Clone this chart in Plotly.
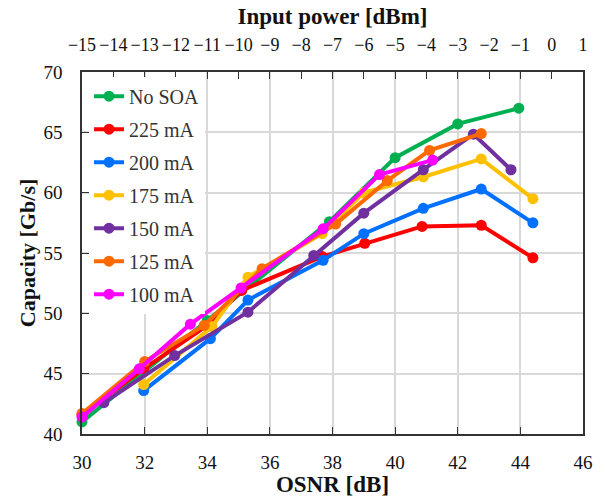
import plotly.graph_objects as go

names = ["No SOA", "225 mA", "200 mA", "175 mA", "150 mA", "125 mA", "100 mA"]
colors = ["#00B050", "#FF0000", "#0070FF", "#FFC000", "#7030A0", "#FF6A00", "#FF00FF"]

osnr_nosoa = [30.0, 34.0, 37.9, 40.0, 42.0, 43.95]
cap_nosoa = [41.0, 49.4, 57.6, 62.9, 65.7, 67.0]

osnr_225 = [30.0, 31.97, 34.0, 35.1, 37.67, 39.03, 40.86, 42.75, 44.4]
cap_225 = [41.6, 45.4, 49.0, 51.9, 54.7, 55.8, 57.2, 57.3, 54.6]

osnr_200 = [31.97, 34.1, 35.3, 37.7, 39.0, 40.9, 42.75, 44.4]
cap_200 = [43.6, 47.9, 51.1, 54.4, 56.6, 58.7, 60.3, 57.5]

osnr_175 = [31.97, 34.15, 35.3, 37.67, 39.0, 40.9, 42.75, 44.4]
cap_175 = [44.1, 48.9, 53.0, 56.6, 60.0, 61.3, 62.8, 59.5]

osnr_150 = [30.7, 32.96, 35.3, 37.4, 39.0, 40.9, 42.5, 43.7]
cap_150 = [42.6, 46.5, 50.1, 54.8, 58.3, 61.9, 64.85, 61.9]

osnr_125 = [30.0, 32.0, 33.9, 35.75, 38.1, 39.75, 41.1, 42.75]
cap_125 = [41.7, 46.0, 49.0, 53.7, 57.4, 61.0, 63.5, 64.9]

osnr_100 = [30.0, 31.83, 33.46, 35.08, 37.7, 39.5, 41.2]
cap_100 = [41.4, 45.4, 49.1, 52.1, 57.0, 61.5, 62.7]

xs = [osnr_nosoa, osnr_225, osnr_200, osnr_175, osnr_150, osnr_125, osnr_100]
ys = [cap_nosoa, cap_225, cap_200, cap_175, cap_150, cap_125, cap_100]

top_ticks = list(range(-15, 2))

FONT = "Liberation Serif"
fig = go.Figure()
for i, (n, c, x, y) in enumerate(zip(names, colors, xs, ys)):
    fig.add_trace(go.Scatter(
        x=x, y=y, name=n, mode="lines+markers", legendgroup=n,
        line=dict(color=c, width=4), marker=dict(color=c, size=11),
        cliponaxis=False))

# invisible trace for top axis
fig.add_trace(go.Scatter(x=[top_ticks[0], top_ticks[-1]], y=[40, 40], xaxis="x2",
                         mode="markers", marker=dict(opacity=0), showlegend=False,
                         hoverinfo="skip"))

axcol = "#333333"
fig.update_layout(
    width=605, height=497,
    margin=dict(l=82, r=22, t=72, b=63),
    paper_bgcolor="white", plot_bgcolor="white",
    font=dict(family=FONT, size=19, color="#111111"),
    xaxis=dict(range=[30, 46], dtick=2, tick0=30, ticks="inside", ticklen=7,
               tickcolor=axcol, showline=True, linecolor=axcol, linewidth=1.5,
               showgrid=True, gridcolor="#D9D9D9", gridwidth=1.5, zeroline=False,
               ticklabelstandoff=10, automargin=False,
               title=dict(text="<b>OSNR [dB]</b>", font=dict(size=23), standoff=0)),
    xaxis2=dict(range=[-15, 1], dtick=1, tick0=-15, overlaying="x", side="top",
                ticks="inside", ticklen=7, tickcolor=axcol, showline=True,
                linecolor=axcol, linewidth=1.5, showgrid=False, zeroline=False,
                tickfont=dict(size=18), ticklabelstandoff=12, automargin=False,
                title=dict(text="<b>Input power [dBm]</b>", font=dict(size=23), standoff=4)),
    yaxis=dict(range=[40, 70], dtick=5, ticks="inside", ticklen=7, tickcolor=axcol,
               showline=True, linecolor=axcol, linewidth=1.5, mirror=True,
               showgrid=True, gridcolor="#D9D9D9", gridwidth=1.5, zeroline=False,
               ticklabelstandoff=14, automargin=False,
               title=dict(text="<b>Capacity [Gb/s]</b>", font=dict(size=22), standoff=2)),
    legend=dict(x=0.014, y=0.987, xanchor="left", yanchor="top",
                bgcolor="white", font=dict(size=20, color="#333333"),
                tracegroupgap=4, itemwidth=30),
    showlegend=True,
)

fig.write_html("out.html")
